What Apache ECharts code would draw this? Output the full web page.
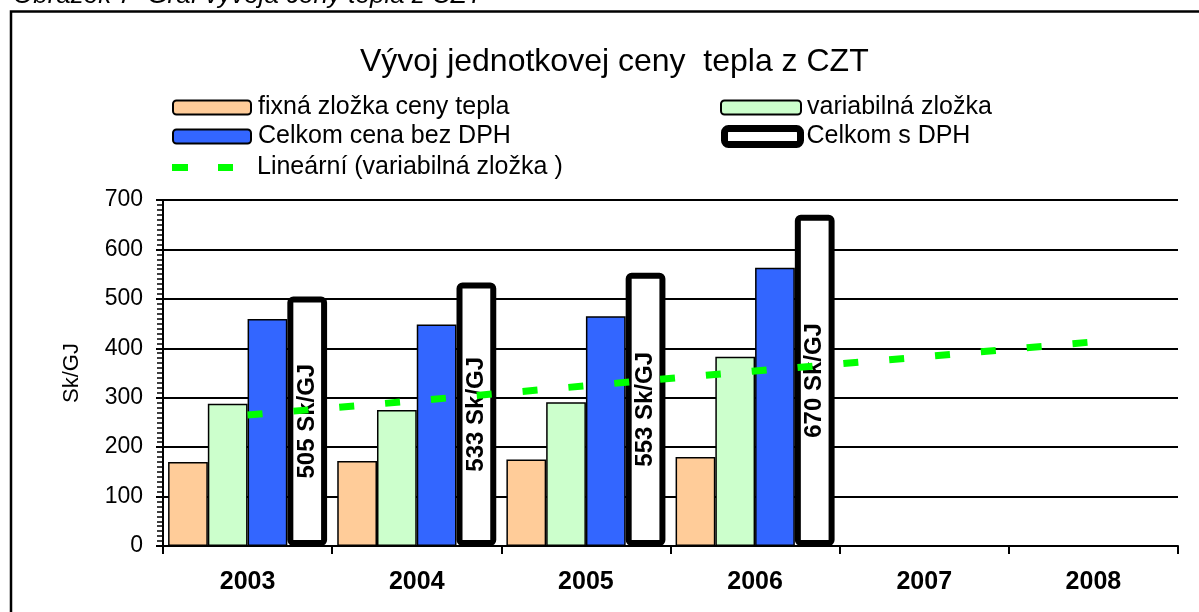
<!DOCTYPE html>
<html>
<head>
<meta charset="utf-8">
<script src="https://cdn.jsdelivr.net/npm/echarts@6/dist/echarts.min.js"></script>
<style>html,body{margin:0;padding:0;background:#fff}#c{width:1199px;height:612px}</style>
</head>
<body>
<div id="c"></div>
<script>
const years = ['2003', '2004', '2005', '2006', '2007', '2008'];
const fixna = [170, 172, 175, 180, null, null];
const variabilna = [288, 275, 291, 383, null, null];
const bezDPH = [459, 448, 465, 563, null, null];
const sDPH = [505, 533, 553, 670, null, null];
const trend = [265, 294, 324, 354, 383, 413];
const yTicks = [0, 100, 200, 300, 400, 500, 600, 700];

const names = ['fixná zložka ceny tepla', 'variabilná zložka', 'Celkom cena bez DPH', 'Celkom s DPH', 'Lineární (variabilná zložka )'];
const font = '"Liberation Sans", Arial, sans-serif';

function leg(item, left, top, w, h, padLeft) {
  return {
    data: [item], left: left, top: top, padding: 0,
    itemWidth: w, itemHeight: h, itemGap: 0,
    textStyle: { fontFamily: font, fontSize: 25, color: '#000', padding: [0, 0, 0, padLeft] },
    selectedMode: false
  };
}

const chart = echarts.init(document.getElementById('c'));
chart.setOption({
  animation: false,
  backgroundColor: '#fff',
  title: {
    text: 'Vývoj jednotkovej ceny  tepla z CZT',
    left: 355, top: 41,
    textStyle: { fontFamily: font, fontSize: 32, fontWeight: 'normal', color: '#000' }
  },
  graphic: [
    { type: 'rect', shape: { x: 11, y: 11.5, width: 1400, height: 800 }, style: { fill: 'none', stroke: '#000', lineWidth: 2.5 }, silent: true, z: -10 },
    { type: 'text', x: 13, y: 9, style: { text: 'Obrázok 7  Graf vývoja ceny tepla z CZT', font: 'italic 26px "Liberation Sans", Arial, sans-serif', fill: '#000', verticalAlign: 'bottom' } }
  ],
  legend: [
    leg(names[0], 172, 95, 78, 14, 2),
    leg(names[1], 720, 95, 80, 14, 1),
    leg({ name: names[2] }, 172, 124, 78, 14, 2),
    leg({ name: names[3], itemStyle: { borderWidth: 7 } }, 721, 124, 76, 16, 1),
    leg({ name: names[4], icon: 'path://M0,0h16v7h-16zM46,0h15v7h-15z' }, 172, 155, 61, 7, 19)
  ],
  grid: { left: 163, right: 21, top: 200, bottom: 66, containLabel: false },
  xAxis: {
    type: 'category', data: years,
    axisLine: { lineStyle: { color: '#000', width: 2 } },
    axisTick: { show: true, length: 8, lineStyle: { color: '#000', width: 2 } },
    axisLabel: { fontFamily: font, fontSize: 25, fontWeight: 'bold', color: '#000', margin: 24 },
    splitLine: { show: false }
  },
  yAxis: {
    type: 'value', min: 0, max: 700, interval: 100,
    name: 'Sk/GJ', nameLocation: 'middle', nameGap: 80, nameRotate: 90,
    nameTextStyle: { fontFamily: font, fontSize: 22, color: '#000' },
    axisLine: { show: true, lineStyle: { color: '#000', width: 2 } },
    axisTick: { show: true, length: 7, lineStyle: { color: '#000', width: 2 } },
    minorTick: { show: true, splitNumber: 10, length: 6, lineStyle: { color: '#000', width: 1.5 } },
    axisLabel: {
      fontFamily: font, fontSize: 23, color: '#000', margin: 20,
      formatter: function (v) { return yTicks.indexOf(v) >= 0 ? String(v) : ''; }
    },
    splitLine: { show: true, lineStyle: { color: '#000', width: 2 } }
  },
  series: [
    { name: names[0], type: 'bar', data: fixna, barGap: '0%', barCategoryGap: '6%',
      itemStyle: { color: '#FFCC99', borderColor: '#000', borderWidth: 1.5 } },
    { name: names[1], type: 'bar', data: variabilna,
      itemStyle: { color: '#CCFFCC', borderColor: '#000', borderWidth: 1.5 } },
    { name: names[2], type: 'bar', data: bezDPH,
      itemStyle: { color: '#3366FF', borderColor: '#000', borderWidth: 1.5 } },
    { name: names[3], type: 'bar', data: sDPH,
      itemStyle: { color: '#fff', borderColor: '#000', borderWidth: 6, borderRadius: 3 },
      label: { show: true, position: 'inside', rotate: 90, formatter: '{c} Sk/GJ',
        fontFamily: font, fontSize: 24, fontWeight: 'bold', color: '#000' } },
    { name: names[4], type: 'line', data: trend, symbol: 'none', z: 3,
      itemStyle: { color: '#00FF00' },
      lineStyle: { color: '#00FF00', width: 7, type: [15, 31] } }
  ]
});
</script>
</body>
</html>
